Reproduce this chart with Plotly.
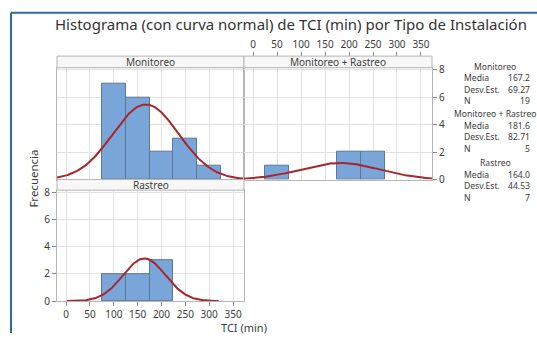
import numpy as np
import plotly.graph_objects as go

W, H = 537, 338

# ---- data ----
groups = ["Monitoreo", "Monitoreo + Rastreo", "Rastreo"]
bin_centers = [50, 100, 150, 200, 250, 300]
counts_monitoreo = [0, 7, 6, 2, 3, 1]
counts_mon_rast = [1, 0, 0, 2, 2, 0]
counts_rastreo = [0, 2, 2, 3, 0, 0]
means = [167.2, 181.6, 164.0]
sds = [69.27, 82.71, 44.53]
ns = [19, 5, 7]
bin_width = 50
x_ticks = [0, 50, 100, 150, 200, 250, 300, 350]
y_ticks = [0, 2, 4, 6, 8]

counts = [counts_monitoreo, counts_mon_rast, counts_rastreo]

def px(x):
    return x / W

def py(y):
    return 1 - y / H

XR = [-19, 373]
YR = [0, 8.15]

# panel boxes in pixels: (x0, x1, ytop, ybot)
panels = [
    (57, 244, 65, 181),   # Monitoreo
    (244, 432, 65, 181),  # Monitoreo + Rastreo
    (57, 244, 192, 307),  # Rastreo
]
strips = [
    (57, 244, 53, 65),
    (244, 432, 53, 65),
    (57, 244, 181, 192),
]

BAR = "#7aa5d9"
BAR_LINE = "#5b7896"
CURVE = "#a8262b"
GRID = "#e2e2e2"
AXL = "#b5b5b5"
TXT = "#3c3c3c"

fig = go.Figure()

for i, g in enumerate(groups):
    sfx = "" if i == 0 else str(i + 1)
    xa = "x" + sfx
    ya = "y" + sfx
    bx = [c for c, v in zip(bin_centers, counts[i]) if v > 0]
    by = [v for v in counts[i] if v > 0]
    fig.add_trace(go.Bar(
        x=bx, y=by, width=bin_width,
        marker=dict(color=BAR, line=dict(color=BAR_LINE, width=1)),
        xaxis=xa, yaxis=ya, showlegend=False,
    ))
    m, s, n = means[i], sds[i], ns[i]
    lo = max(XR[0], m - 3.65 * s)
    hi = min(XR[1], m + 3.5 * s)
    xs = np.linspace(lo, hi, 200)
    ys = n * bin_width * np.exp(-0.5 * ((xs - m) / s) ** 2) / (s * np.sqrt(2 * np.pi))
    fig.add_trace(go.Scatter(
        x=xs, y=ys, mode="lines", line=dict(color=CURVE, width=2),
        xaxis=xa, yaxis=ya, showlegend=False,
    ))

# invisible trace for the top tick axis above the strip
fig.add_trace(go.Scatter(x=[XR[0]], y=[0], mode="markers", marker=dict(opacity=0),
                         xaxis="x4", yaxis="y2", showlegend=False, hoverinfo="skip"))

tickfont = dict(family="Noto Sans", size=10, color=TXT)

def xaxis_cfg(i, show_labels, side="bottom"):
    x0, x1, yt, yb = panels[i]
    return dict(
        domain=[px(x0), px(x1)], range=XR, tickvals=x_ticks,
        showticklabels=show_labels, side=side,
        ticks="outside" if show_labels else "", ticklen=4, tickcolor="#888",
        showgrid=True, gridcolor=GRID, gridwidth=1, zeroline=False,
        showline=True, linecolor=AXL, mirror=True, tickfont=tickfont,
        anchor="y" if i == 0 else "y" + str(i + 1), fixedrange=True,
    )

def yaxis_cfg(i, show_labels, side="left"):
    x0, x1, yt, yb = panels[i]
    return dict(
        domain=[py(yb), py(yt)], range=YR, tickvals=y_ticks,
        showticklabels=show_labels, side=side,
        ticks="outside" if show_labels else "", ticklen=4, tickcolor="#888",
        showgrid=True, gridcolor=GRID, gridwidth=1, zeroline=False,
        showline=True, linecolor=AXL, mirror=True, tickfont=tickfont,
        anchor="x" if i == 0 else "x" + str(i + 1), fixedrange=True,
    )

top_axis = dict(
    domain=[px(244), px(432)], range=XR, tickvals=x_ticks,
    overlaying="x2", anchor="free", position=py(53), side="top",
    showticklabels=True, ticks="outside", ticklen=4, tickcolor="#888",
    showgrid=False, zeroline=False, showline=False, tickfont=tickfont,
    ticklabelstandoff=0, fixedrange=True,
)

fig.update_layout(
    xaxis=xaxis_cfg(0, False),
    yaxis=yaxis_cfg(0, False),
    xaxis2=xaxis_cfg(1, False),
    yaxis2=yaxis_cfg(1, True, "right"),
    xaxis3=xaxis_cfg(2, True, "bottom"),
    yaxis3=yaxis_cfg(2, True, "left"),
    xaxis4=top_axis,
)

shapes = []
annotations = []
for i, (x0, x1, yt, yb) in enumerate(strips):
    shapes.append(dict(type="rect", xref="paper", yref="paper",
                       x0=px(x0), x1=px(x1), y0=py(yb), y1=py(yt),
                       fillcolor="#f8f8f8", line=dict(color=AXL, width=1)))
    annotations.append(dict(text=groups[i], xref="paper", yref="paper",
                            x=px((x0 + x1) / 2), y=py((yt + yb) / 2),
                            showarrow=False, xanchor="center", yanchor="middle",
                            font=dict(family="Noto Sans", size=10, color=TXT)))

# frame
shapes.append(dict(type="line", xref="paper", yref="paper",
                   x0=px(11), x1=px(11), y0=py(8), y1=py(340),
                   line=dict(color="#2a6e99", width=2)))
shapes.append(dict(type="line", xref="paper", yref="paper",
                   x0=px(11), x1=px(540), y0=py(8), y1=py(8),
                   line=dict(color="#2a6e99", width=2)))

# title
annotations.append(dict(text="Histograma (con curva normal) de TCI (min) por Tipo de Instalación",
                        xref="paper", yref="paper", x=px(291), y=py(20),
                        showarrow=False, xanchor="center", yanchor="middle",
                        font=dict(family="Noto Sans", size=15, color="#333333")))
# axis titles
annotations.append(dict(text="Frecuencia", xref="paper", yref="paper",
                        x=px(34), y=py(180), textangle=-90, showarrow=False,
                        xanchor="center", yanchor="middle", borderpad=0,
                        font=dict(family="Noto Sans", size=11.5, color=TXT)))
annotations.append(dict(text="TCI (min)", xref="paper", yref="paper",
                        x=px(244), y=py(334), showarrow=False,
                        xanchor="center", yanchor="middle", borderpad=0,
                        font=dict(family="Noto Sans", size=11, color=TXT)))

# stats legend
leg_font = dict(family="Noto Sans", size=8.6, color=TXT)
leg_tops = [64, 113, 164]
row_h = 12
for i, g in enumerate(groups):
    y0 = leg_tops[i]
    annotations.append(dict(text=g, xref="paper", yref="paper", x=px(495), y=py(y0),
                            showarrow=False, xanchor="center", yanchor="middle",
                            borderpad=0, font=leg_font))
    labels = ["Media", "Desv.Est.", "N"]
    vals = [f"{means[i]:.1f}", f"{sds[i]:.2f}", f"{ns[i]}"]
    for k in range(3):
        yy = y0 + row_h * (k + 1)
        annotations.append(dict(text=labels[k], xref="paper", yref="paper", x=px(463), y=py(yy),
                                showarrow=False, xanchor="left", yanchor="middle",
                                borderpad=0, font=leg_font))
        annotations.append(dict(text=vals[k], xref="paper", yref="paper", x=px(531), y=py(yy),
                                showarrow=False, xanchor="right", yanchor="middle",
                                borderpad=0, font=leg_font))

fig.update_layout(
    width=W, height=H, margin=dict(l=0, r=0, t=0, b=0),
    paper_bgcolor="white", plot_bgcolor="white",
    bargap=0, shapes=shapes, annotations=annotations,
    showlegend=False,
)

fig.write_html("out.html")
